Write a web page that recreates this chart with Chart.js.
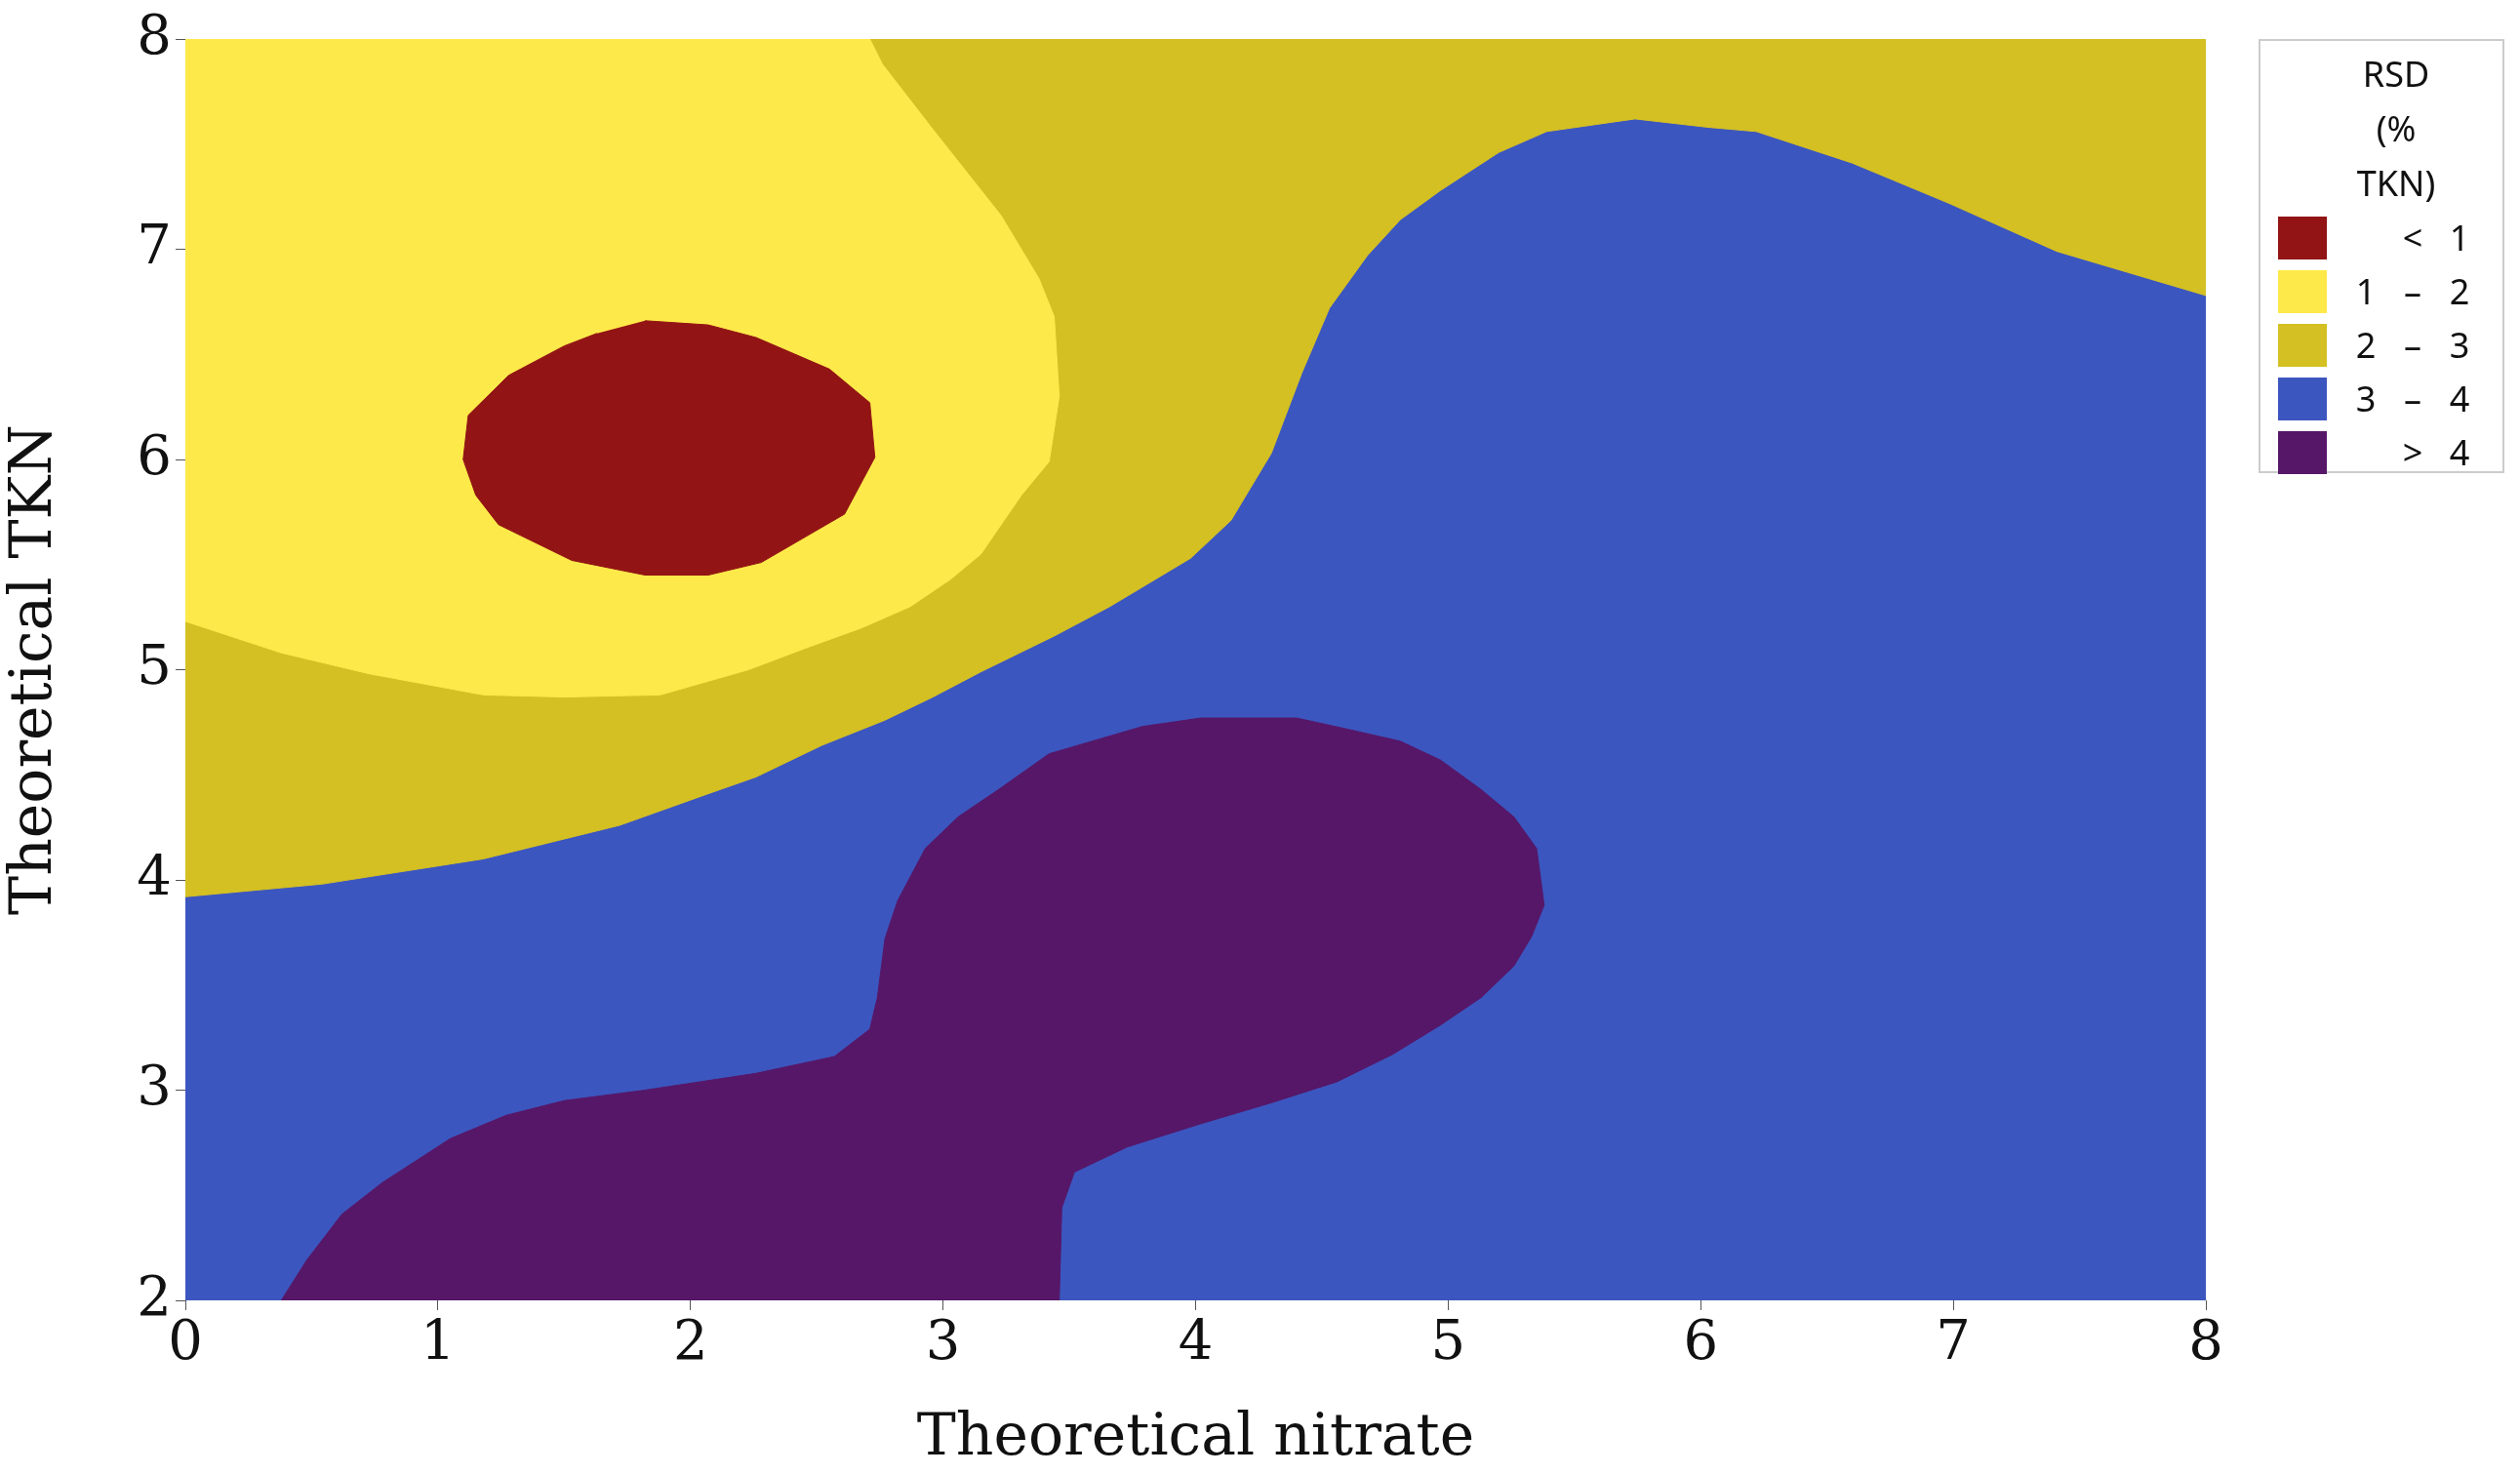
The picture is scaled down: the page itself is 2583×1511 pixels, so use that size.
<!DOCTYPE html>
<html lang="en">
<head>
<meta charset="UTF-8">
<title>RSD contour</title>
<script src="https://cdn.jsdelivr.net/npm/chart.js"></script>
<style>
  body { margin:0; background:#fff; }
  #wrap { position:relative; width:2583px; height:1511px; }
  #legend { position:absolute; left:2315px; top:40px; width:252px; height:445px; border:2px solid #ccc; box-sizing:border-box;
            font-family:"Noto Sans", sans-serif; font-size:36px; color:#111; }
  #legend .title { text-align:center; line-height:56px; margin-top:6px; margin-bottom:0; padding-left:30px; }
  #legend .row { display:flex; align-items:center; height:55px; }
  #legend .sw { width:50px; height:44px; margin-left:18px; margin-right:20px; }
  #legend .c { display:inline-block; text-align:center; }
</style>
</head>
<body>
<div id="wrap">
  <canvas id="c" width="2583" height="1511"></canvas>
  <div id="legend"></div>
</div>
<script>
// contour band polygons, [nitrate, TKN] vertices
const gold = [[0,8],[8,8],[8,6.78],[7.41,6.99],[6.98,7.22],[6.6,7.41],[6.22,7.56],[6.03,7.58],[5.74,7.62],[5.39,7.56],[5.2,7.46],[4.97,7.28],[4.81,7.14],[4.68,6.97],[4.53,6.72],[4.42,6.41],[4.3,6.03],[4.14,5.71],[3.98,5.53],[3.66,5.3],[3.44,5.16],[3.15,4.99],[2.96,4.87],[2.77,4.76],[2.52,4.64],[2.26,4.49],[2.07,4.41],[1.72,4.26],[1.18,4.1],[0.54,3.98],[0,3.92]];
const yellow = [[0,8],[2.71,8],[2.76,7.88],[2.96,7.57],[3.23,7.16],[3.38,6.86],[3.44,6.68],[3.46,6.3],[3.42,5.99],[3.31,5.83],[3.15,5.55],[3.03,5.43],[2.87,5.3],[2.68,5.2],[2.45,5.1],[2.23,5.0],[1.88,4.88],[1.5,4.87],[1.18,4.88],[0.73,4.98],[0.38,5.08],[0,5.23]];
const red = [[1.82,6.66],[2.07,6.64],[2.26,6.58],[2.55,6.43],[2.71,6.27],[2.73,6.01],[2.61,5.74],[2.28,5.51],[2.07,5.45],[1.82,5.45],[1.53,5.52],[1.24,5.69],[1.15,5.83],[1.1,6.0],[1.12,6.21],[1.28,6.4],[1.5,6.54],[1.63,6.6]];
const purple = [[0.38,2],[0.48,2.19],[0.62,2.41],[0.78,2.56],[1.05,2.77],[1.27,2.88],[1.5,2.95],[1.82,3.0],[2.26,3.08],[2.57,3.16],[2.71,3.29],[2.74,3.44],[2.77,3.72],[2.82,3.9],[2.93,4.15],[3.06,4.3],[3.22,4.43],[3.42,4.6],[3.79,4.73],[4.02,4.77],[4.4,4.77],[4.59,4.72],[4.81,4.66],[4.97,4.57],[5.13,4.43],[5.26,4.3],[5.35,4.15],[5.38,3.88],[5.33,3.73],[5.26,3.59],[5.13,3.44],[4.97,3.31],[4.78,3.17],[4.56,3.04],[4.3,2.94],[4.02,2.84],[3.73,2.73],[3.52,2.61],[3.47,2.44],[3.46,2]];
const bandLabels = [['', '<', '1'], ['1', '\u2013', '2'], ['2', '\u2013', '3'], ['3', '\u2013', '4'], ['', '>', '4']];
const bandColors = ['#921414', '#FEE94A', '#D4C023', '#3C56BF', '#561768'];
const xTicks = [0,1,2,3,4,5,6,7,8];
const yTicks = [2,3,4,5,6,7,8];

const toPts = p => p.map(([x, y]) => ({x, y}));
const poly = (p, color) => ({ data: toPts(p), showLine: true, fill: 'shape', backgroundColor: color,
  borderColor: color, borderWidth: 1, pointRadius: 0, tension: 0 });

const bgPlugin = {
  id: 'bg',
  beforeDatasetsDraw(chart) {
    const a = chart.chartArea, ctx = chart.ctx;
    ctx.save(); ctx.fillStyle = bandColors[3];
    ctx.fillRect(a.left, a.top, a.right - a.left, a.bottom - a.top); ctx.restore();
  }
};

const serif = '"DejaVu Serif", "Liberation Serif", serif';
// the filler paints the last dataset first, so the top band comes first here
new Chart(document.getElementById('c'), {
  type: 'scatter',
  data: { datasets: [poly(red, bandColors[0]), poly(yellow, bandColors[1]), poly(gold, bandColors[2]), poly(purple, bandColors[4])] },
  options: {
    responsive: false, animation: false,
    layout: { padding: { top: 40, right: 322, bottom: 0, left: 0 } },
    plugins: { legend: { display: false }, tooltip: { enabled: false } },
    scales: {
      x: { type: 'linear', min: 0, max: 8, afterBuildTicks: s => { s.ticks = xTicks.map(v => ({value: v})); },
        afterFit: s => { s.height = 178; },
        grid: { drawOnChartArea: false, tickLength: 10, color: '#555' }, border: { display: false },
        ticks: { font: { family: serif, size: 56 }, color: '#111', padding: 2 },
        title: { display: true, text: 'Theoretical nitrate', font: { family: serif, size: 60 }, color: '#111', padding: 0 } },
      y: { type: 'linear', min: 2, max: 8, afterBuildTicks: s => { s.ticks = yTicks.map(v => ({value: v})); },
        afterFit: s => { s.width = 190; },
        grid: { drawOnChartArea: false, tickLength: 10, color: '#555' }, border: { display: false },
        ticks: { font: { family: serif, size: 56 }, color: '#111', padding: 4 },
        title: { display: true, text: 'Theoretical TKN', font: { family: serif, size: 60 }, color: '#111', padding: 0 } }
    }
  },
  plugins: [bgPlugin]
});

const lg = document.getElementById('legend');
lg.innerHTML = '<div class="title">RSD<br>(%<br>TKN)</div>' +
  bandLabels.map((t, i) => `<div class="row"><div class="sw" style="background:${bandColors[i]}"></div>` +
    `<span class="c" style="width:40px">${t[0]}</span><span class="c" style="width:56px">${t[1]}</span><span class="c" style="width:40px">${t[2]}</span></div>`).join('');
</script>
</body>
</html>
